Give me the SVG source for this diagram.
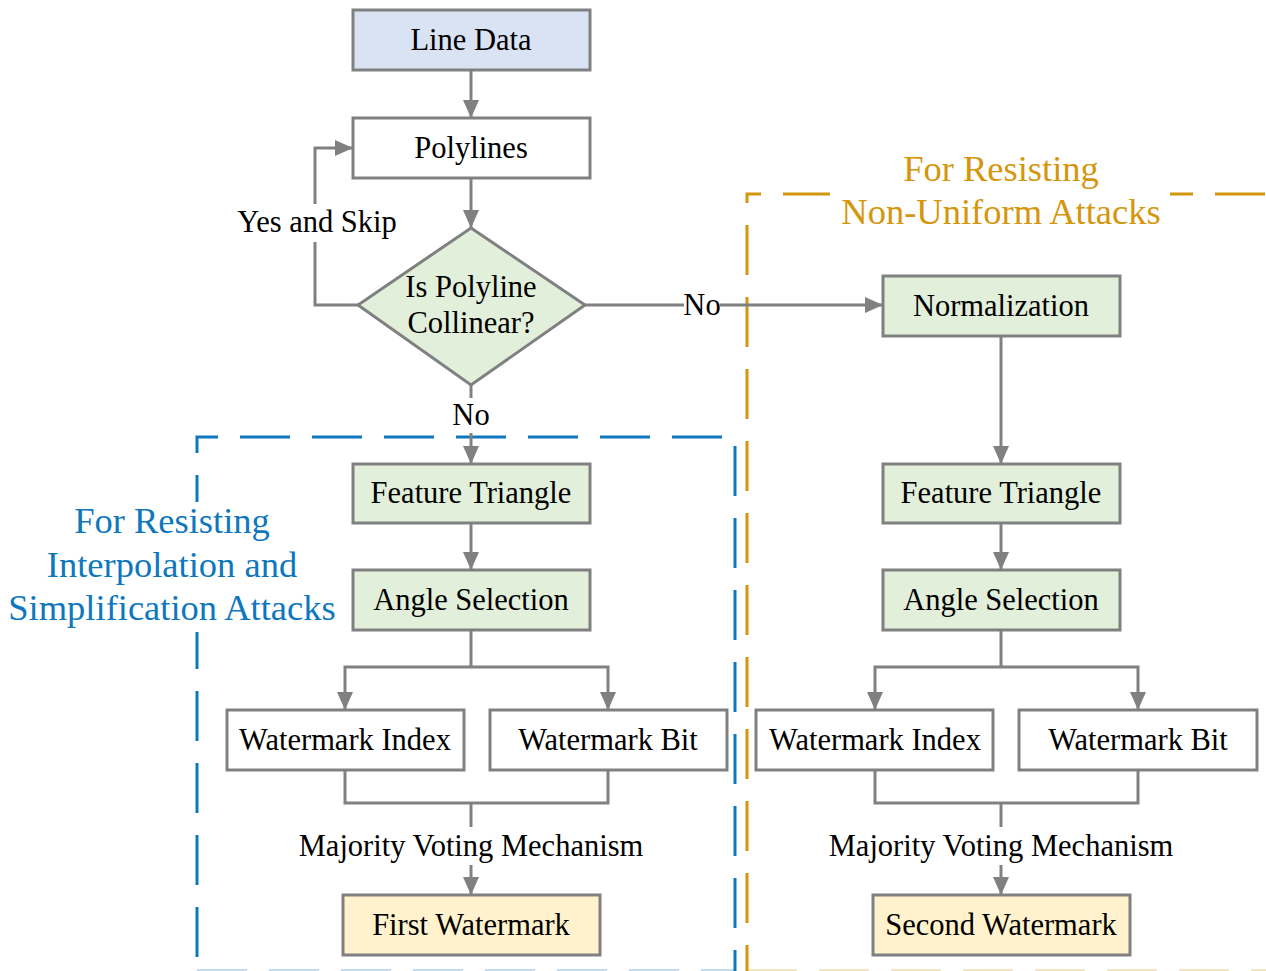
<svg xmlns="http://www.w3.org/2000/svg" width="1266" height="971" viewBox="0 0 1266 971">
<style>
.box{stroke:#808080;stroke-width:3}
.w{fill:#ffffff}.b{fill:#dae3f3}.g{fill:#e2efda}.y{fill:#fff2cc}
.t{font-family:"Liberation Serif","Times New Roman",serif;font-size:30.5px;fill:#000;text-anchor:middle}
.c{fill:none;stroke:#808080;stroke-width:3}
.ca{fill:none;stroke:#808080;stroke-width:3;marker-end:url(#ah)}
.ttl{font-family:"Liberation Serif","Times New Roman",serif;font-size:36.5px;text-anchor:middle}
</style>
<defs>
<marker id="ah" markerUnits="userSpaceOnUse" markerWidth="18" markerHeight="16" refX="18" refY="8" orient="auto">
<path d="M0,0 L18,8 L0,16 z" fill="#808080"/>
</marker>
</defs>
<rect width="1266" height="971" fill="#ffffff"/>
<g id="groups">
<rect x="747" y="194" width="540" height="778.5" fill="none" stroke="#d4960c" stroke-width="3" stroke-dasharray="50 22" stroke-dashoffset="36"/>
<rect x="197" y="437" width="538" height="535.5" fill="none" stroke="#0e77bd" stroke-width="3" stroke-dasharray="50 22" stroke-dashoffset="29"/>
<line x1="197" y1="970" x2="735" y2="970" stroke="#0e77bd" stroke-width="2" stroke-opacity="0.25" stroke-dasharray="50 22"/>
<line x1="747" y1="970" x2="1266" y2="970" stroke="#d4960c" stroke-width="2" stroke-opacity="0.25" stroke-dasharray="50 22"/>
<rect x="830" y="180" width="340" height="28" fill="#ffffff"/>
<rect x="185" y="502" width="24" height="130" fill="#ffffff"/>
<text class="ttl" x="1001" y="181" fill="#d4960c">For Resisting</text>
<text class="ttl" x="1001" y="224" fill="#d4960c">Non-Uniform Attacks</text>
<text class="ttl" x="172" y="533" fill="#0e77bd">For Resisting</text>
<text class="ttl" x="172" y="577" fill="#0e77bd">Interpolation and</text>
<text class="ttl" x="172" y="620" fill="#0e77bd">Simplification Attacks</text>
</g>
<g id="connectors">
<line class="ca" x1="471" y1="70" x2="471" y2="118"/>
<line class="ca" x1="471" y1="178" x2="471" y2="228"/>
<polyline class="c" points="358,305 315,305 315,242"/>
<polyline class="ca" points="315,204 315,148 353,148"/>
<text class="t" x="317" y="232">Yes and Skip</text>
<line class="c" x1="585" y1="305" x2="684" y2="305"/>
<line class="ca" x1="720" y1="305" x2="883" y2="305"/>
<text class="t" x="702" y="315">No</text>
<line class="c" x1="471" y1="385" x2="471" y2="398"/>
<line class="ca" x1="471" y1="433" x2="471" y2="464"/>
<text class="t" x="471" y="425">No</text>
<line class="ca" x1="471" y1="523" x2="471" y2="570"/>
<line class="c" x1="471" y1="630" x2="471" y2="667"/>
<polyline class="ca" points="471,667 345,667 345,710"/>
<polyline class="ca" points="471,667 608,667 608,710"/>
<polyline class="c" points="345,770 345,803 608,803 608,770"/>
<line class="c" x1="471" y1="803" x2="471" y2="827"/>
<text class="t" x="471" y="856">Majority Voting Mechanism</text>
<line class="ca" x1="471" y1="865" x2="471" y2="895"/>
<line class="ca" x1="1001" y1="336" x2="1001" y2="464"/>
<line class="ca" x1="1001" y1="523" x2="1001" y2="570"/>
<line class="c" x1="1001" y1="630" x2="1001" y2="667"/>
<polyline class="ca" points="1001,667 875,667 875,710"/>
<polyline class="ca" points="1001,667 1138,667 1138,710"/>
<polyline class="c" points="875,770 875,803 1138,803 1138,770"/>
<line class="c" x1="1001" y1="803" x2="1001" y2="827"/>
<text class="t" x="1001" y="856">Majority Voting Mechanism</text>
<line class="ca" x1="1001" y1="865" x2="1001" y2="895"/>
</g>
<g id="n-linedata"><rect class="box b" x="353" y="10" width="237" height="60"/><text class="t" x="471" y="50">Line Data</text></g>
<g id="n-polylines"><rect class="box w" x="353" y="118" width="237" height="60"/><text class="t" x="471" y="158">Polylines</text></g>
<g id="n-decision"><polygon class="box g" points="471,228 585,305 471,385 358,305"/><text class="t" x="471" y="297">Is Polyline</text><text class="t" x="471" y="333">Collinear?</text></g>
<g id="n-normalization"><rect class="box g" x="883" y="276" width="237" height="60"/><text class="t" x="1001" y="316">Normalization</text></g>
<g id="n-ft1"><rect class="box g" x="353" y="464" width="237" height="59"/><text class="t" x="471" y="503">Feature Triangle</text></g>
<g id="n-ft2"><rect class="box g" x="883" y="464" width="237" height="59"/><text class="t" x="1001" y="503">Feature Triangle</text></g>
<g id="n-as1"><rect class="box g" x="353" y="570" width="237" height="60"/><text class="t" x="471" y="610">Angle Selection</text></g>
<g id="n-as2"><rect class="box g" x="883" y="570" width="237" height="60"/><text class="t" x="1001" y="610">Angle Selection</text></g>
<g id="n-wi1"><rect class="box w" x="227" y="710" width="237" height="60"/><text class="t" x="345" y="750">Watermark Index</text></g>
<g id="n-wb1"><rect class="box w" x="490" y="710" width="237" height="60"/><text class="t" x="608" y="750">Watermark Bit</text></g>
<g id="n-wi2"><rect class="box w" x="756" y="710" width="237" height="60"/><text class="t" x="875" y="750">Watermark Index</text></g>
<g id="n-wb2"><rect class="box w" x="1019" y="710" width="238" height="60"/><text class="t" x="1138" y="750">Watermark Bit</text></g>
<g id="n-first"><rect class="box y" x="343" y="895" width="257" height="60"/><text class="t" x="471" y="935">First Watermark</text></g>
<g id="n-second"><rect class="box y" x="873" y="895" width="257" height="60"/><text class="t" x="1001" y="935">Second Watermark</text></g>
</svg>
